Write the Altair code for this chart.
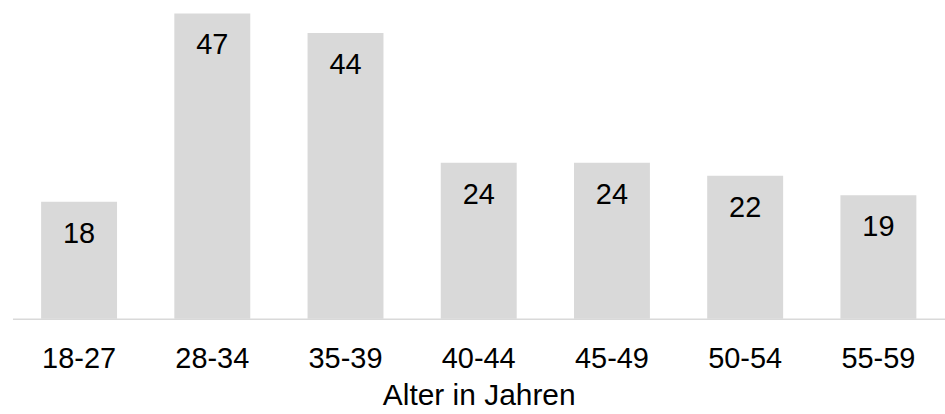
import altair as alt
import pandas as pd

categories = ["18-27", "28-34", "35-39", "40-44", "45-49", "50-54", "55-59"]
values = [18, 47, 44, 24, 24, 22, 19]

df = pd.DataFrame({"Alter": categories, "Wert": values})

FONT = "Liberation Sans"

base = alt.Chart(df).encode(
    x=alt.X(
        "Alter:N",
        sort=categories,
        scale=alt.Scale(paddingInner=0.43, paddingOuter=0.215),
        axis=alt.Axis(
            title="Alter in Jahren",
            labelAngle=0,
            labelFont=FONT,
            labelFontSize=29,
            labelColor="#000000",
            labelBaseline="alphabetic",
            labelPadding=49,
            ticks=False,
            tickSize=0,
            grid=False,
            domainColor="#d9d9d9",
            domainWidth=1.5,
            titleFont=FONT,
            titleFontSize=30,
            titleFontWeight="normal",
            titleColor="#000000",
            titleBaseline="alphabetic",
            titleY=86,
        ),
    ),
    y=alt.Y("Wert:Q", scale=alt.Scale(domain=[0, 47], nice=False), axis=None),
)

bars = base.mark_bar(color="#d9d9d9")
labels = base.mark_text(
    font=FONT, fontSize=29, color="#000000", baseline="middle", dy=32
).encode(text="Wert:Q")

chart = (
    alt.layer(bars, labels)
    .properties(
        width=935,
        height=306,
        autosize=alt.AutoSizeParams(type="none"),
        padding={"left": 12.5, "top": 13, "right": 0, "bottom": 95},
        view=alt.ViewBackground(strokeOpacity=0, strokeWidth=0),
    )
    .configure_view(strokeOpacity=0, strokeWidth=0)
    .configure(background="#ffffff", style={"cell": {"stroke": "transparent", "strokeWidth": 0}})
)

chart.save("out.html", embed_options={"renderer": "svg", "actions": False})
